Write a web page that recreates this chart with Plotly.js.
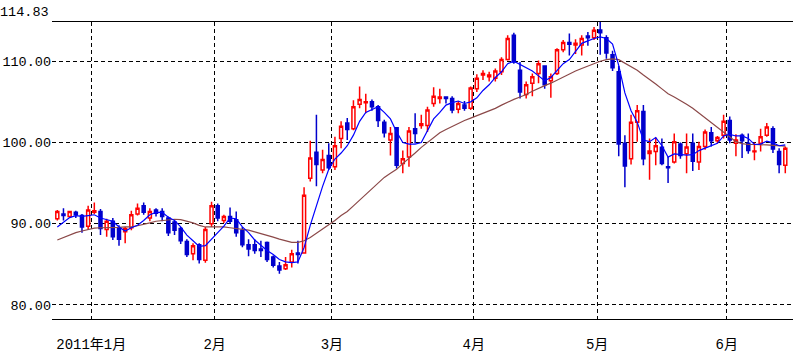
<!DOCTYPE html>
<html><head><meta charset="utf-8">
<script src="https://cdn.plot.ly/plotly-3.0.1.min.js"></script>
<style>html,body{margin:0;padding:0;background:#fff;}#chart{width:793px;height:361px;}</style>
</head><body><div id="chart"></div>
<script>
const dates = [
'2010-12-23','2010-12-27','2010-12-28','2010-12-29','2010-12-30','2010-12-31',
'2011-01-03','2011-01-04','2011-01-05','2011-01-06','2011-01-07','2011-01-10','2011-01-11','2011-01-12','2011-01-13','2011-01-14',
'2011-01-18','2011-01-19','2011-01-20','2011-01-21','2011-01-24','2011-01-25','2011-01-26','2011-01-27','2011-01-28','2011-01-31',
'2011-02-01','2011-02-02','2011-02-03','2011-02-04','2011-02-07','2011-02-08','2011-02-09','2011-02-10','2011-02-11',
'2011-02-14','2011-02-15','2011-02-16','2011-02-17','2011-02-18','2011-02-22','2011-02-23','2011-02-24','2011-02-25','2011-02-28',
'2011-03-01','2011-03-02','2011-03-03','2011-03-04','2011-03-07','2011-03-08','2011-03-09','2011-03-10','2011-03-11',
'2011-03-14','2011-03-15','2011-03-16','2011-03-17','2011-03-18','2011-03-21','2011-03-22','2011-03-23','2011-03-24','2011-03-25',
'2011-03-28','2011-03-29','2011-03-30','2011-03-31',
'2011-04-01','2011-04-04','2011-04-05','2011-04-06','2011-04-07','2011-04-08','2011-04-11','2011-04-12','2011-04-13','2011-04-14','2011-04-15',
'2011-04-18','2011-04-19','2011-04-20','2011-04-21','2011-04-25','2011-04-26','2011-04-27','2011-04-28','2011-04-29',
'2011-05-02','2011-05-03','2011-05-04','2011-05-05','2011-05-06','2011-05-09','2011-05-10','2011-05-11','2011-05-12','2011-05-13',
'2011-05-16','2011-05-17','2011-05-18','2011-05-19','2011-05-20','2011-05-23','2011-05-24','2011-05-25','2011-05-26','2011-05-27','2011-05-31',
'2011-06-01','2011-06-02','2011-06-03','2011-06-06','2011-06-07','2011-06-08','2011-06-09','2011-06-10','2011-06-13','2011-06-14'
];
const openP = [90.6,91.2,90.9,91.4,91.0,89.7,
91.4,91.5,89.3,90.3,89.4,89.0,89.5,91.2,92.2,90.7,91.7,91.5,90.7,90.2,89.4,87.8,86.3,87.4,85.5,90.0,
92.2,90.4,90.9,90.5,89.2,87.4,87.4,86.9,87.7,85.9,84.8,84.45,85.3,86.4,86.4,95.6,98.8,96.6,98.4,
97.0,100.5,102.4,101.7,104.7,104.9,105.0,104.4,102.5,100.3,101.8,97.4,98.2,101.7,102.1,102.1,104.8,105.4,105.6,105.4,104.1,104.6,104.2,
106.6,108.3,108.1,107.9,108.7,110.2,113.2,108.9,105.9,107.3,108.5,109.4,107.6,108.5,111.4,112.3,112.0,112.0,113.1,112.9,
113.85,112.9,110.8,108.7,99.9,98.0,102.5,103.8,98.65,98.9,99.4,97.0,97.6,99.8,98.6,99.9,97.6,99.5,101.2,100.2,100.9,
102.7,99.9,100.9,99.9,98.85,99.9,100.9,101.7,98.9,97.2];
const highP = [91.7,91.9,91.6,91.6,91.2,92.2,
92.6,91.8,90.6,90.7,89.8,89.6,91.6,92.5,92.6,91.9,91.9,91.9,90.9,90.4,89.6,88.1,87.6,87.6,89.6,92.7,
92.5,91.1,92.0,91.5,89.6,88.1,88.1,87.9,87.8,86.1,85.3,85.9,86.8,87.9,94.5,100.2,103.4,99.1,99.9,
100.7,102.6,103.0,105.2,106.9,106.0,105.3,104.6,102.8,101.9,101.8,99.0,101.9,103.6,103.4,104.4,106.8,106.6,105.7,105.7,105.1,105.1,106.9,
108.4,108.9,108.7,109.1,110.5,113.2,113.5,109.9,107.5,108.5,110.1,109.5,108.5,111.6,112.6,113.4,112.7,113.2,113.6,114.2,
114.83,113.2,111.3,109.4,100.9,103.4,104.6,104.6,100.5,100.6,100.5,98.2,101.1,100.0,101.1,101.1,100.1,101.6,101.9,100.8,103.4,
103.2,101.0,101.1,101.1,100.0,101.7,102.4,102.0,99.3,99.5];
const lowP = [90.4,90.4,90.7,90.7,88.9,89.3,
91.2,88.6,88.4,88.0,87.3,87.6,89.2,91.0,91.1,90.3,90.9,90.3,88.5,88.6,87.5,85.9,85.5,85.1,85.2,89.6,
90.3,90.1,90.0,88.4,87.1,86.0,86.3,85.9,85.3,84.6,83.85,84.3,84.6,85.1,86.3,95.2,94.6,96.2,96.6,
96.6,99.3,100.3,101.5,104.2,103.6,103.9,101.9,100.6,98.4,96.8,96.2,97.0,99.9,101.7,101.3,104.4,104.8,104.8,103.6,103.6,103.9,104.0,
106.2,107.7,107.5,107.5,108.3,110.1,109.7,105.4,105.4,105.7,107.3,106.6,105.5,108.3,111.1,110.7,110.9,110.7,111.9,112.6,
110.8,110.3,108.8,98.3,94.5,97.3,100.1,97.2,95.4,97.2,97.2,95.0,97.4,98.0,96.2,96.5,96.6,99.1,99.5,99.9,100.5,
99.9,98.3,98.1,98.6,97.8,98.9,100.7,98.7,96.2,96.2];
const closeP = [91.5,91.0,91.5,91.1,89.6,91.7,
91.6,89.4,90.3,88.4,88.1,89.4,91.1,91.9,91.4,91.5,91.3,90.9,88.9,89.2,87.9,86.2,87.3,85.6,89.3,92.2,
90.7,90.9,90.3,88.9,87.4,86.9,86.7,86.7,85.6,84.9,84.3,84.95,86.3,86.2,93.5,98.1,97.3,97.9,96.9,
99.6,102.0,101.6,104.4,105.3,105.0,104.4,102.7,101.2,101.1,97.2,98.0,101.4,101.1,102.3,104.0,105.7,105.6,105.4,104.0,104.8,104.2,106.7,
107.9,108.5,108.3,108.8,110.2,112.8,109.9,106.2,107.1,108.1,109.7,107.1,108.1,111.4,112.3,112.1,112.2,112.8,112.9,113.8,
113.5,111.0,109.2,99.8,97.1,102.5,103.9,98.0,98.95,99.6,97.4,96.9,100.1,98.4,99.45,97.7,99.5,101.3,100.2,100.6,102.6,
100.3,100.3,100.2,99.0,98.95,100.7,101.9,99.2,97.3,99.3];
const maShort = [89.6,90.2,90.75,91.0,90.9,91.0,
91.1,90.7,90.5,90.3,89.6,89.1,89.5,89.8,90.4,91.1,91.4,91.4,90.8,90.4,89.6,88.6,87.9,87.2,87.3,88.1,
89.0,89.7,90.7,90.6,89.6,88.9,88.0,87.3,86.7,86.2,85.6,85.3,85.2,85.3,87.05,89.8,92.3,94.6,96.7,
97.96,98.7,99.6,100.9,102.6,103.7,104.1,104.4,103.7,102.9,101.3,100.0,99.8,99.8,100.0,101.4,102.9,103.7,104.6,104.9,105.1,104.8,105.0,
105.5,106.4,107.1,108.0,108.7,109.7,110.0,109.6,109.2,108.8,108.2,107.6,108.0,108.9,109.7,110.2,111.2,112.2,112.5,112.8,
113.0,112.8,112.1,109.5,106.1,103.9,102.5,100.3,100.1,100.6,99.6,98.2,98.6,98.5,98.45,98.5,99.0,99.3,99.6,99.9,100.8,
101.0,100.8,100.8,100.5,99.75,99.8,100.15,99.95,99.6,99.7];
const maLong = [88.0,88.3,88.6,88.9,89.1,89.3,
89.45,89.5,89.5,89.55,89.55,89.6,89.6,89.75,89.9,90.1,90.3,90.4,90.5,90.55,90.5,90.3,90.1,89.8,89.6,89.6,
89.6,89.6,89.5,89.4,89.3,89.2,89.0,88.8,88.6,88.35,88.1,87.9,87.7,87.7,87.9,88.3,88.8,89.4,89.9,
90.4,91.0,91.5,92.2,92.9,93.6,94.3,95.0,95.7,96.2,96.7,97.4,98.0,98.7,99.4,100.0,100.6,101.2,101.6,102.0,102.4,102.7,103.0,
103.3,103.6,103.9,104.2,104.6,105.0,105.3,105.6,105.9,106.3,106.7,107.0,107.3,107.7,108.1,108.5,108.8,109.1,109.4,109.7,
110.0,110.2,110.3,110.2,109.8,109.4,108.9,108.3,107.8,107.2,106.6,106.0,105.6,105.2,104.7,104.2,103.6,103.1,102.5,101.8,101.2,
100.6,100.1,99.85,99.75,99.75,99.75,99.7,99.65,99.6,99.55];
const monthLabels = ['2011年1月','2月','3月','4月','5月','6月'];
const yTicks = [80, 90, 100, 110];
const yTickText = ['80.00','90.00','100.00','110.00'];
const topLabel = 114.83;
const bottomValue = 78.27;

const xIdx = dates.map((d, i) => i);
const tickPos = [];
for (let i = 1; i < dates.length; i++) {
  if (dates[i].slice(5, 7) !== dates[i - 1].slice(5, 7)) tickPos.push(i - 0.5);
}
const monoFont = 'Liberation Mono, DejaVu Sans Mono, monospace';

const traces = [
  {
    type: 'candlestick', x: xIdx, open: openP, high: highP, low: lowP, close: closeP,
    increasing: {line: {color: '#ff0000', width: 1.5}, fillcolor: '#ffffff'},
    decreasing: {line: {color: '#0000cc', width: 1.5}, fillcolor: '#0000cc'},
    whiskerwidth: 0, hoverinfo: 'skip', showlegend: false
  },
  {type: 'scatter', mode: 'lines', x: xIdx, y: maLong, line: {color: '#8b4848', width: 1.2}, hoverinfo: 'skip'},
  {type: 'scatter', mode: 'lines', x: xIdx, y: maShort, line: {color: '#0000ff', width: 1.2}, hoverinfo: 'skip'}
];

const layout = {
  width: 793, height: 361,
  margin: {l: 52, r: 0, t: 22, b: 42},
  paper_bgcolor: '#ffffff', plot_bgcolor: '#ffffff',
  showlegend: false,
  xaxis: {
    range: [-0.86, dates.length + 0.25],
    tickmode: 'array', tickvals: tickPos, ticktext: monthLabels,
    showgrid: true, gridcolor: '#000000', gridwidth: 1, griddash: '4px,3px',
    showline: true, linecolor: '#000000', linewidth: 1, mirror: true,
    ticks: 'outside', ticklen: 12, tickcolor: 'rgba(0,0,0,0)',
    tickfont: {family: monoFont + ', Noto Sans CJK JP', size: 14, color: '#000'},
    zeroline: false, rangeslider: {visible: false}, fixedrange: true
  },
  yaxis: {
    range: [bottomValue, topLabel],
    tickmode: 'array', tickvals: yTicks, ticktext: yTickText,
    showgrid: true, gridcolor: '#000000', gridwidth: 1, griddash: '4px,3px',
    showline: false, ticks: '', zeroline: false,
    tickfont: {family: monoFont, size: 13.5, color: '#000'}, fixedrange: true
  },
  annotations: [{
    text: topLabel.toFixed(2), xref: 'paper', x: 0, xanchor: 'right', xshift: -1,
    yref: 'y', y: topLabel, yanchor: 'bottom', showarrow: false,
    font: {family: monoFont, size: 13.5, color: '#000'}
  }]
};
Plotly.newPlot('chart', traces, layout, {staticPlot: true, displayModeBar: false});
</script>
</body></html>
